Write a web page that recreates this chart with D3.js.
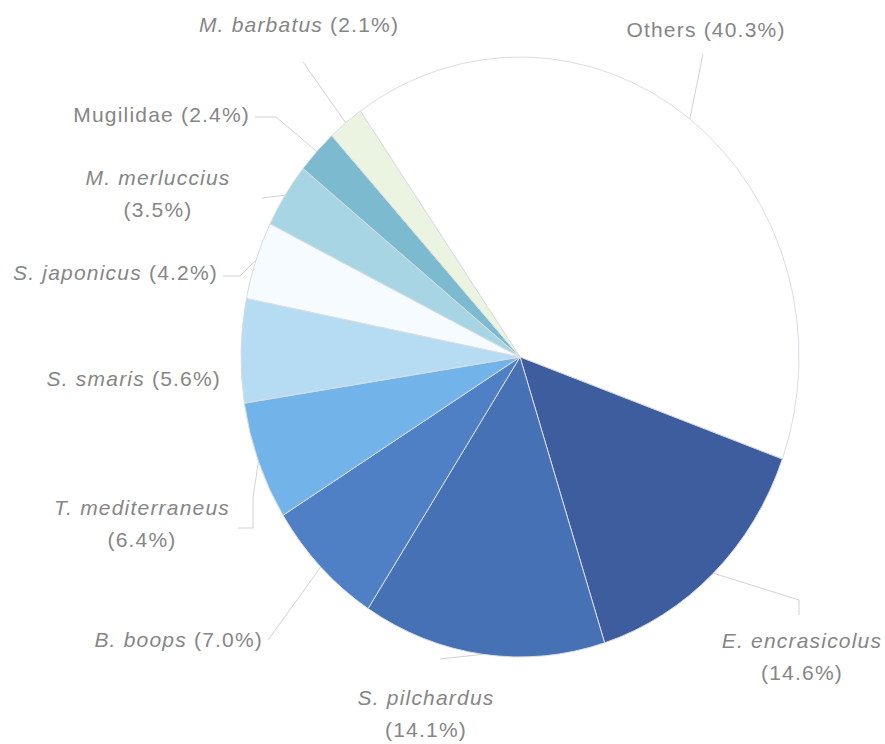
<!DOCTYPE html>
<html>
<head>
<meta charset="utf-8">
<script src="https://cdn.jsdelivr.net/npm/d3@7"></script>
<style>
  body { margin: 0; background: #ffffff; }
  text { font-family: "Liberation Sans", Arial, sans-serif; }
</style>
</head>
<body>
<svg id="chart" width="885" height="744"></svg>
<script>
// Share of the catch by taxon (%)
const species = ["Others", "E. encrasicolus", "S. pilchardus", "B. boops", "T. mediterraneus",
                 "S. smaris", "S. japonicus", "M. merluccius", "Mugilidae", "M. barbatus"];
const shares = [40.3, 14.6, 14.1, 7.0, 6.4, 5.6, 4.2, 3.5, 2.4, 2.1];
const italicName = [false, true, true, true, true, true, true, true, false, true];
const sliceColors = ["#ffffff", "#3d5d9f", "#4672b5", "#4f80c5", "#72b4ea",
                     "#b6dcf4", "#f5fbfe", "#a7d5e3", "#7bbacf", "#eaf4e0"];

// Label layout: text anchor point, whether name and value go on two lines, and leader elbows
const labelLayout = {
  "Others":           { x: 706, y: 37,  anchor: "middle", split: false, leader: [[703, 54]] },
  "E. encrasicolus":  { x: 802, y: 648, anchor: "middle", split: true,  leader: [[799, 615], [799, 600]] },
  "S. pilchardus":    { x: 426, y: 705, anchor: "middle", split: true,  leader: [[440, 659]] },
  "B. boops":         { x: 263, y: 647, anchor: "end",    split: false, leader: [[268, 640]] },
  "T. mediterraneus": { x: 142, y: 515, anchor: "middle", split: true,  leader: [[238, 528], [253, 528], [253, 498]] },
  "S. smaris":        { x: 221, y: 386, anchor: "end",    split: false, leader: null },
  "S. japonicus":     { x: 218, y: 280, anchor: "end",    split: false, leader: [[223, 276], [240, 276]] },
  "M. merluccius":    { x: 158, y: 185, anchor: "middle", split: true,  leader: [[262, 198]] },
  "Mugilidae":        { x: 250, y: 122, anchor: "end",    split: false, leader: [[255, 117], [276, 117]] },
  "M. barbatus":      { x: 299, y: 32,  anchor: "middle", split: false, leader: [[303, 62]] }
};

const cx = 520, cy = 357, R = 300, squash = 0.93;
const startAngle = -34.9 * Math.PI / 180;

const svg = d3.select("#chart");

const pie = d3.pie().sort(null).value(d => d.value)
  .startAngle(startAngle).endAngle(startAngle + 2 * Math.PI);
const data = species.map((name, i) => ({ name, value: shares[i], italic: italicName[i], color: sliceColors[i] }));
const arcs = pie(data);

const arc = d3.arc().innerRadius(0).outerRadius(R);
const rim = d3.arc().innerRadius(R).outerRadius(R);

// Slices, drawn on a circle and squashed horizontally into an ellipse
const g = svg.append("g").attr("transform", `translate(${cx},${cy}) scale(${squash},1)`);
g.selectAll("path.slice")
  .data(arcs)
  .join("path")
  .attr("class", "slice")
  .attr("d", arc)
  .attr("fill", d => d.data.color)
  .attr("stroke", "#d9dde2")
  .attr("stroke-width", 1)
  .attr("vector-effect", "non-scaling-stroke");

// Leader lines from the rim of each slice to its label
const line = d3.line();
arcs.forEach(d => {
  const lay = labelLayout[d.data.name];
  if (!lay.leader) return;
  const c = rim.centroid(d);
  const rimPt = [cx + c[0] * squash, cy + c[1]];
  svg.append("path")
    .attr("d", line([...lay.leader, rimPt]))
    .attr("fill", "none")
    .attr("stroke", "#d2d2d2")
    .attr("stroke-width", 1);
});

// Labels
const pct = v => `(${v.toFixed(1)}%)`;
arcs.forEach(d => {
  const lay = labelLayout[d.data.name];
  const t = svg.append("text")
    .attr("x", lay.x).attr("y", lay.y)
    .attr("text-anchor", lay.anchor)
    .attr("font-size", 21)
    .attr("letter-spacing", 1.2)
    .attr("fill", "#868686");
  t.append("tspan")
    .attr("font-style", d.data.italic ? "italic" : "normal")
    .text(d.data.name);
  if (lay.split) {
    t.append("tspan")
      .attr("x", lay.x).attr("dy", 32)
      .text(pct(d.data.value));
  } else {
    t.append("tspan").text(" " + pct(d.data.value));
  }
});
</script>
</body>
</html>
